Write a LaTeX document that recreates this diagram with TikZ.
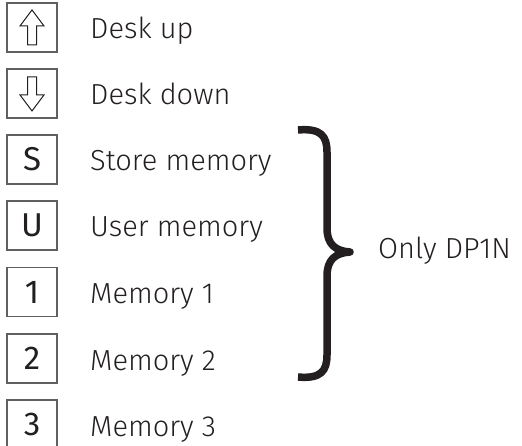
\documentclass[tikz,border=0pt]{standalone}
\usepackage{fontspec}
\setmainfont{Fira Sans Light}
\newfontfamily\keyfont{Fira Sans}
\definecolor{ink}{HTML}{231F20}
\begin{document}
\begin{tikzpicture}[x=1pt,y=-1pt,
  keybox/.style={draw=gray!75!black, line width=1.1pt, minimum width=50pt, minimum height=49pt, inner sep=0pt, font=\keyfont\fontsize{33}{33}\selectfont, text=ink},
  lbl/.style={anchor=base west, inner sep=0pt, font=\fontsize{29}{35}\selectfont, text=ink},
  arrowsym/.style={draw=ink, line width=1pt, line join=miter},
  bracestyle/.style={line width=7.5pt, draw=ink, line join=round}]
\useasboundingbox (0,0) rectangle (522,446);

% keys
\node[keybox] (kup)   at (32,27.5)  {};
\node[keybox] (kdown) at (32,93.5)  {};
\node[keybox] (ks)    at (32,159.5) {S};
\node[keybox] (ku)    at (32,225.5) {U};
\node[keybox] (k1)    at (32,292)   {1};
\node[keybox] (k2)    at (32,358.5) {2};
\node[keybox] (k3)    at (32,424.5) {3};

% arrow symbols
\draw[arrowsym, shift={(kup.center)}] (0,-17.5) -- (12,-1.5) -- (4.5,-1.5) -- (4.5,17.5) -- (-4.5,17.5) -- (-4.5,-1.5) -- (-12,-1.5) -- cycle;
\draw[arrowsym, shift={(kdown.center)}] (0,17.5) -- (12,1.5) -- (4.5,1.5) -- (4.5,-16.5) -- (-4.5,-16.5) -- (-4.5,1.5) -- (-12,1.5) -- cycle;

% labels
\node[lbl] (tup)   at (90,39)    {Desk up};
\node[lbl] (tdown) at (90,105)   {Desk down};
\node[lbl] (ts)    at (90,171)   {Store memory};
\node[lbl] (tu)    at (90,237)   {User memory};
\node[lbl] (t1)    at (90,303.5) {Memory 1};
\node[lbl] (t2)    at (90,370)   {Memory 2};
\node[lbl] (t3)    at (90,436)   {Memory 3};

% brace
\draw[bracestyle] (298,130) .. controls (321,128) and (327,136) .. (327,152)
  -- (327,228) .. controls (327,244) and (335,251) .. (350,252)
  .. controls (335,253) and (327,260) .. (327,276)
  -- (327,355) .. controls (327,371) and (321,379) .. (298,377);

\node[lbl] (only) at (378,259) {Only DP1N};
\end{tikzpicture}
\end{document}
